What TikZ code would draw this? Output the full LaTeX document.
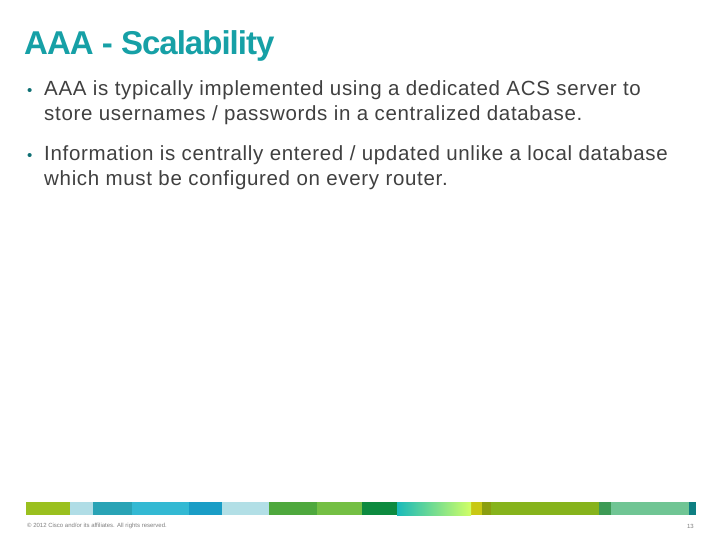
\documentclass[tikz,border=0pt]{standalone}
\usepackage{fontspec}
\setmainfont{Liberation Sans}
\definecolor{txt}{HTML}{404040}
\definecolor{ttl}{HTML}{16A0A6}
\tikzset{seg/.code={\definecolor{segc}{HTML}{#1}\pgfkeysalso{fill=segc,draw=none}},
 body/.style={anchor=base west,inner sep=0pt,text=txt,font=\fontsize{20.5}{25}\selectfont\addfontfeature{LetterSpace=3.3}},
 bul/.style={anchor=base west,inner sep=0pt,text=ttl!70!black,font=\fontsize{15}{15}\selectfont},
 foot/.style={inner sep=0pt,text=gray,font=\fontsize{6}{7}\selectfont}}
\begin{document}
\begin{tikzpicture}[x=1pt,y=-1pt]
\useasboundingbox[fill=white] (0,0) rectangle (720,540);
\node[anchor=base west,inner sep=0pt,font=\fontsize{33}{33}\selectfont\bfseries,text=ttl] (title) at (24,55) {\addfontfeature{LetterSpace=-3}AAA - Scalability};
\node[bul] (b1) at (27,96) {•};
\node[body] (t1) at (44,96) {AAA is typically implemented using a dedicated ACS server to};
\node[body] (t2) at (44,121) {store usernames / passwords in a centralized database.};
\node[bul] (b2) at (27,161) {•};
\node[body] (t3) at (44,161) {Information is centrally entered / updated unlike a local database};
\node[body] (t4) at (44,186) {which must be configured on every router.};
\foreach \a/\b/\c in {26/70/9AC01F,70/93/B0DDE6,93/132/29A3B5,132/189/33B9D3,189/222/1A9DC6,222/269/B2DFE6,269/317/4EA83D,317/362/74BF44,362/397/0D8A3F,471/482/C8C814,482/491/8A9E10,491/599/86B31C,599/611/3D9A55,611/689/70C594,689/696/0E7F82}
  \fill[seg=\c] (\a,502) rectangle (\b,515);
\shade[left color=teal!60!cyan!90,right color=yellow!70!green!60,draw=none] (397,502) rectangle (471,515);
\node[foot,anchor=west] (f) at (27,526) {© 2012 Cisco and/or its affiliates. All rights reserved.};
\node[foot,anchor=east] (p) at (694,526) {13};
\end{tikzpicture}
\end{document}
